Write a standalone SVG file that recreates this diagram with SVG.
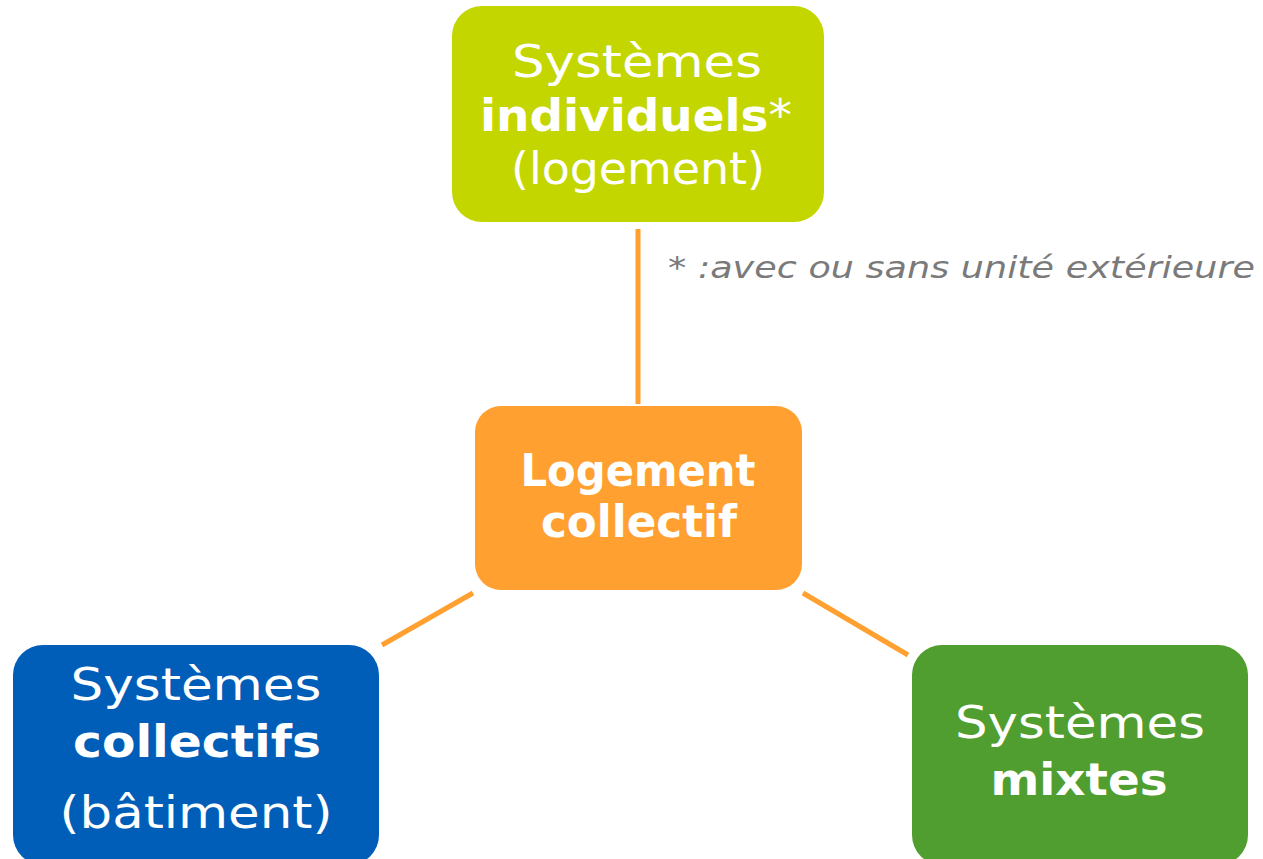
<svg xmlns="http://www.w3.org/2000/svg" width="1263" height="859" viewBox="0 0 1263 859">
<style>
.t{font-family:"DejaVu Sans","Open Sans",sans-serif;fill:#fff;text-anchor:middle;font-size:44px}
.b{font-weight:bold}
.n{font-family:"DejaVu Sans","Open Sans",sans-serif;fill:#7a7a7a;font-style:italic;font-size:31px}
.c{stroke:#FFA030;stroke-width:5;fill:none}
</style>
<rect width="1263" height="859" fill="#fff"/>
<g id="connectors">
<line class="c" x1="638" y1="229" x2="638" y2="404"/>
<line class="c" x1="473" y1="593" x2="382" y2="645"/>
<line class="c" x1="803" y1="593" x2="908" y2="655"/>
</g>
<g id="individuels">
<rect x="452" y="6" width="372" height="216" rx="30" fill="#C4D600"/>
<text class="t" x="637" y="77" textLength="250" lengthAdjust="spacingAndGlyphs">Systèmes</text>
<text class="t" x="636" y="131" textLength="312" lengthAdjust="spacingAndGlyphs"><tspan class="b">individuels</tspan>*</text>
<text class="t" x="638" y="184" textLength="254" lengthAdjust="spacingAndGlyphs">(logement)</text>
</g>
<g id="logement">
<rect x="475" y="406" width="327" height="184" rx="26" fill="#FFA030"/>
<text class="t b" x="638" y="486" font-size="40" textLength="235" lengthAdjust="spacingAndGlyphs">Logement</text>
<text class="t b" x="639" y="537" font-size="40" textLength="196" lengthAdjust="spacingAndGlyphs">collectif</text>
</g>
<g id="collectifs">
<rect x="13" y="645" width="366" height="220" rx="30" fill="#005EB8"/>
<text class="t" x="196" y="700" textLength="251" lengthAdjust="spacingAndGlyphs">Systèmes</text>
<text class="t b" x="197" y="757" textLength="248" lengthAdjust="spacingAndGlyphs">collectifs</text>
<text class="t" x="196" y="828" textLength="273" lengthAdjust="spacingAndGlyphs">(bâtiment)</text>
</g>
<g id="mixtes">
<rect x="912" y="645" width="336" height="220" rx="30" fill="#509E2F"/>
<text class="t" x="1080" y="738" textLength="250" lengthAdjust="spacingAndGlyphs">Systèmes</text>
<text class="t b" x="1079" y="795" textLength="177" lengthAdjust="spacingAndGlyphs">mixtes</text>
</g>
<text class="n" x="668" y="278" textLength="587" lengthAdjust="spacingAndGlyphs">* :avec ou sans unité extérieure</text>
</svg>
